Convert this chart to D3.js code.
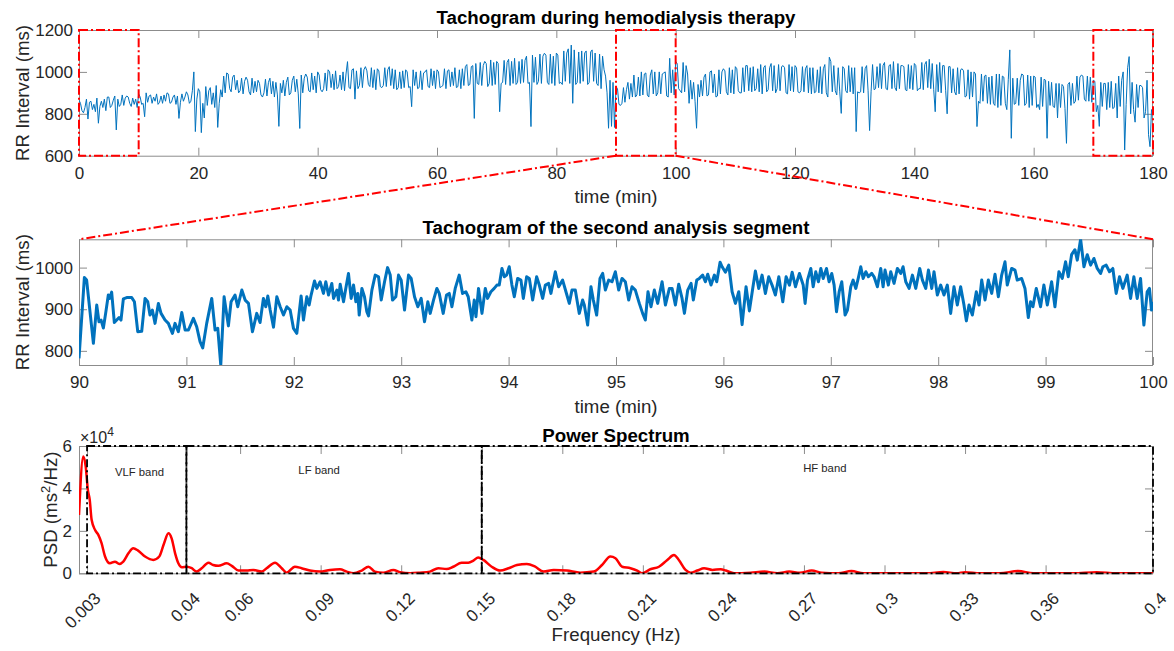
<!DOCTYPE html>
<html><head><meta charset="utf-8">
<script src="https://cdn.jsdelivr.net/npm/d3@7"></script>
<style>
body{margin:0;background:#fff;}
svg{display:block;font-family:"Liberation Sans",Arial,Helvetica,sans-serif;}
</style></head><body>
<svg id="chart" width="1174" height="651"></svg>
<script>
// ---------------- DATA ----------------
// Full tachogram, RR interval (ms) sampled every 0.25 min from 0 to 180 min
const fullStep = 0.25;
const fullRR = [
865,850,815,805, 830,870,775,855, 860,820,845,810, 875,755,835,860, 830,870,815,880,
880,830,840,865, 885,723,870,835, 845,890,840,875, 885,880,850,835, 875,845,870,830,
895,880,845,850, 786,900,855,885, 890,850,880,860, 895,845,855,885, 850,890,860,900,
895,850,855,880, 890,845,885,778, 855,895,860,880, 905,890,850,860, 910,1000,715,870,
920,905,710,850, 780,930,840,910, 925,845,900,830, 935,735,850,915, 880,980,900,995,
990,920,905,975, 985,915,960,900, 910,970,895,955, 975,960,905,890, 970,900,955,905,
960,945,890,880, 900,965,885,950, 970,895,955,880, 950,890,740,945, 900,960,885,950,
975,890,900,960, 980,905,965,895, 730,985,900,970, 990,975,910,905, 995,915,980,900,
1000,985,915,905, 920,995,910,1010, 1000,925,990,915, 1005,920,930,985, 915,1000,910,990,
1049,925,920,1010, 1015,870,1005,920, 935,1020,925,1010, 1025,1005,940,930, 1020,925,1010,915,
1015,1005,930,925, 935,1020,930,1010, 1025,935,1015,920, 1010,915,925,1000, 920,1005,925,1010,
1000,925,930,834, 1010,935,1000,920, 925,1005,915,995, 1000,1010,930,925, 1015,935,1005,920,
1010,1000,925,930, 935,1015,920,1005, 1010,930,1000,935, 1020,925,930,1010, 920,1015,935,1025,
1035,935,940,1025, 1030,778,1040,945, 940,1045,935,1030, 1050,1040,930,945, 1057,935,1045,940,
1050,1040,810,945, 950,1055,940,1045, 1060,935,1050,945, 1065,940,950,1050, 945,1060,950,1055,
1075,945,950,739, 1080,950,1070,940, 955,1085,945,1075, 1089,1080,950,940, 1085,945,1075,935,
1090,1080,945,950, 940,1100,955,1090, 1110,945,1128,850, 1105,940,950,1095, 945,1100,955,1090,
1100,940,950,1095, 1105,955,1090,945, 935,1085,920,1075, 1010,980,900,731, 960,740,950,735,
930,920,845,840, 850,925,855,915, 950,870,945,880, 985,880,890,975, 885,1000,890,990,
995,890,880,985, 1010,895,1000,885, 900,1000,895,990, 995,1000,885,880, 1065,900,1010,890,
1050,1040,920,910, 900,1045,905,1030, 990,850,960,870, 950,860,731,940, 880,960,885,975,
990,885,890,1000, 1005,900,990,880, 885,1010,895,1000, 1015,1005,905,890, 1020,900,1010,895,
1025,1015,910,900, 900,1020,905,1030, 1030,910,1020,905, 1025,910,920,1015, 905,1035,895,1020,
1030,905,915,1020, 1040,910,1030,900, 920,1035,910,1025, 1030,1020,900,895, 1035,910,1025,905,
1030,1020,905,900, 910,1025,905,1015, 1030,900,1020,895, 1020,900,905,1010, 900,1025,895,1015,
1035,900,880,1070, 1050,905,1030,910, 890,1020,905,802, 1025,1015,910,900, 1030,905,1020,895,
1020,715,905,900, 905,1025,900,1015, 1030,910,720,905, 1035,915,920,1025, 925,1040,920,1030,
1045,920,915,1030, 1035,920,1049,925, 910,1040,920,1030, 1030,1025,915,910, 1035,920,1030,915,
1040,1030,910,920, 920,1045,915,1035, 1050,925,1060,920, 1040,915,810,1035, 905,1045,900,1030,
1030,910,800,1025, 1025,900,1015,905, 890,1020,895,1010, 1015,1005,880,885, 1010,870,1000,880,
1000,990,739,860, 850,990,860,980, 985,850,975,845, 980,850,840,990, 830,990,840,980,
975,850,820,965, 1105,683,970,845, 850,970,840,960, 990,985,840,850, 985,830,980,840,
980,975,830,845, 820,975,835,965, 960,683,955,840, 950,835,830,945, 780,945,830,940,
930,825,659,940, 950,840,945,850, 860,980,865,975, 985,980,870,860, 980,860,975,855,
960,955,810,840, 740,950,835,945, 945,820,950,830, 955,825,830,945, 780,980,835,960,
1000,627,845,1020, 1073,800,950,820, 760,940,830,935, 935,925,780,810, 960,700,643,820,
820];

// Second analysis segment: [time (min), RR (ms)]
const segment = [
[90.000,782],[90.050,976],[90.071,970],[90.134,818],[90.165,910],[90.186,870],[90.205,874],[90.227,855],[90.248,890],[90.273,934],
[90.286,926],[90.304,941],[90.329,868],[90.351,874],[90.373,880],[90.391,874],[90.413,925],[90.444,928],[90.491,928],[90.516,918],
[90.547,846],[90.584,847],[90.615,926],[90.640,918],[90.661,886],[90.683,898],[90.708,866],[90.739,914],[90.764,890],[90.801,874],
[90.832,866],[90.870,842],[90.894,866],[90.925,846],[90.957,892],[90.988,850],[91.019,850],[91.065,878],[91.096,858],[91.127,822],
[91.152,807],[91.189,866],[91.236,926],[91.267,850],[91.292,854],[91.320,766],[91.351,930],[91.391,860],[91.416,918],[91.453,934],
[91.478,906],[91.516,946],[91.547,922],[91.578,914],[91.615,846],[91.655,890],[91.686,868],[91.717,926],[91.739,906],[91.758,932],
[91.780,898],[91.811,857],[91.842,930],[91.873,906],[91.904,886],[91.935,906],[91.966,898],[91.997,854],[92.028,842],[92.068,932],
[92.090,874],[92.121,930],[92.143,910],[92.161,934],[92.193,968],[92.214,950],[92.245,966],[92.276,938],[92.298,966],[92.323,934],
[92.354,962],[92.370,926],[92.401,946],[92.416,922],[92.432,960],[92.463,918],[92.484,950],[92.509,986],[92.534,926],[92.556,958],
[92.578,918],[92.596,938],[92.609,886],[92.634,950],[92.658,930],[92.680,894],[92.696,884],[92.727,946],[92.758,982],[92.789,978],
[92.814,922],[92.845,966],[92.873,1000],[92.898,982],[92.919,922],[92.950,930],[92.975,982],[93.000,970],[93.031,898],[93.068,982],
[93.093,974],[93.124,930],[93.155,906],[93.186,926],[93.217,870],[93.248,918],[93.270,890],[93.301,922],[93.332,950],[93.354,938],
[93.391,890],[93.422,934],[93.447,938],[93.472,906],[93.503,950],[93.540,982],[93.571,938],[93.602,942],[93.624,930],[93.658,874],
[93.680,922],[93.696,882],[93.720,950],[93.752,890],[93.783,950],[93.804,926],[93.835,942],[93.866,950],[93.891,958],[93.913,958],
[93.938,998],[93.960,978],[93.981,982],[94.006,1002],[94.031,958],[94.053,930],[94.084,974],[94.115,970],[94.137,926],[94.168,978],
[94.193,974],[94.224,922],[94.261,978],[94.286,958],[94.317,926],[94.342,958],[94.373,962],[94.394,938],[94.435,990],[94.466,954],
[94.503,970],[94.534,942],[94.565,914],[94.590,946],[94.621,946],[94.658,890],[94.689,922],[94.705,910],[94.736,862],[94.767,954],
[94.789,922],[94.820,886],[94.851,974],[94.876,986],[94.901,946],[94.932,970],[94.963,966],[94.994,990],[95.025,946],[95.056,974],
[95.087,966],[95.118,922],[95.149,954],[95.180,946],[95.217,914],[95.248,890],[95.273,874],[95.298,942],[95.326,906],[95.357,946],
[95.388,914],[95.429,966],[95.460,910],[95.497,950],[95.522,950],[95.553,910],[95.584,960],[95.615,926],[95.637,890],[95.668,946],
[95.699,962],[95.720,922],[95.752,970],[95.776,974],[95.807,982],[95.832,966],[95.854,984],[95.885,958],[95.916,982],[95.938,966],
[95.969,1013],[95.988,1002],[96.019,989],[96.050,1006],[96.081,942],[96.112,914],[96.143,942],[96.174,863],[96.211,954],[96.242,896],
[96.273,950],[96.298,992],[96.329,950],[96.360,982],[96.391,938],[96.422,978],[96.453,958],[96.484,934],[96.516,978],[96.553,918],
[96.584,978],[96.615,958],[96.640,989],[96.671,954],[96.708,986],[96.743,958],[96.761,914],[96.783,970],[96.814,998],[96.836,954],
[96.860,990],[96.885,966],[96.907,998],[96.929,974],[96.960,998],[96.984,966],[97.009,986],[97.031,958],[97.053,894],[97.078,942],
[97.102,966],[97.133,886],[97.155,898],[97.186,954],[97.208,970],[97.233,950],[97.257,976],[97.279,1002],[97.301,974],[97.326,990],
[97.350,978],[97.381,986],[97.403,978],[97.434,954],[97.465,998],[97.487,954],[97.505,994],[97.536,958],[97.558,990],[97.589,962],
[97.620,998],[97.651,986],[97.673,1002],[97.698,966],[97.729,950],[97.760,982],[97.791,950],[97.828,998],[97.853,970],[97.884,950],
[97.909,994],[97.940,950],[97.961,990],[97.992,934],[98.023,958],[98.054,934],[98.085,958],[98.116,890],[98.147,954],[98.178,910],
[98.209,954],[98.240,910],[98.262,872],[98.287,910],[98.318,886],[98.355,942],[98.380,910],[98.405,970],[98.436,922],[98.467,970],
[98.498,938],[98.529,984],[98.560,930],[98.591,982],[98.622,1014],[98.643,958],[98.684,998],[98.715,994],[98.736,970],[98.777,974],
[98.808,950],[98.839,880],[98.860,918],[98.882,906],[98.913,950],[98.953,906],[98.984,958],[99.016,910],[99.056,966],[99.087,906],
[99.124,990],[99.155,974],[99.186,1014],[99.211,978],[99.242,1031],[99.273,1043],[99.295,1018],[99.326,1068],[99.357,1002],[99.388,1031],
[99.419,1006],[99.450,1022],[99.481,998],[99.512,986],[99.533,1002],[99.564,1006],[99.595,990],[99.626,998],[99.657,938],[99.688,978],
[99.719,950],[99.760,982],[99.791,926],[99.822,978],[99.853,926],[99.884,974],[99.915,862],[99.946,942],[99.967,950],[99.986,898],
[99.998,918]];

// Power spectrum: [frequency (Hz), PSD (ms^2/Hz)]
const spectrum = [
[0,27500],[0.0016,55000],[0.0025,50300],[0.0033,39300],[0.004,34600],[0.0047,25200],[0.006,20400],[0.0072,18100],[0.0084,14200],[0.0097,7900],
[0.0115,4700],[0.0134,5500],[0.015,4400],[0.0165,5500],[0.0184,9400],[0.0202,11800],[0.022,10700],[0.0246,7900],[0.0277,6300],[0.0299,7900],
[0.0317,14200],[0.0333,18900],[0.0345,16500],[0.0358,9400],[0.037,4700],[0.0383,2800],[0.0401,3100],[0.042,2400],[0.0438,800],[0.0457,2400],
[0.0482,5000],[0.05,3900],[0.0519,3500],[0.055,4700],[0.0569,3500],[0.0594,1300],[0.0624,1300],[0.0649,1600],[0.068,800],[0.0699,2400],
[0.073,5000],[0.0755,2400],[0.0773,300],[0.0804,3100],[0.0829,2400],[0.086,1300],[0.0897,800],[0.0935,1600],[0.0972,1900],[0.0997,800],
[0.1022,0],[0.1053,1300],[0.1078,3100],[0.1102,800],[0.1133,300],[0.1171,1600],[0.1196,500],[0.1233,0],[0.127,300],[0.1307,800],
[0.1338,2400],[0.1369,2000],[0.1394,3100],[0.1425,5000],[0.145,5000],[0.1469,6000],[0.1487,7500],[0.1506,6300],[0.1537,3100],[0.1568,1300],
[0.16,2400],[0.1631,3900],[0.1668,4400],[0.1699,3100],[0.173,800],[0.1768,1600],[0.1817,1300],[0.1867,300],[0.1917,800],[0.1948,3900],
[0.1979,7900],[0.1998,7100],[0.2023,3100],[0.2054,2400],[0.2079,1300],[0.2097,0],[0.2128,1900],[0.216,3100],[0.2191,6300],[0.2216,8600],
[0.2234,6300],[0.2259,1600],[0.2278,300],[0.2303,1300],[0.2328,2400],[0.2359,1600],[0.239,1900],[0.2409,1300],[0.244,0],[0.2502,300],
[0.2552,800],[0.2601,0],[0.2645,800],[0.2685,300],[0.2729,1300],[0.2766,300],[0.2828,0],[0.2877,1100],[0.2921,0],[0.2983,0],
[0.3083,0],[0.3157,0],[0.3219,600],[0.3269,0],[0.33,500],[0.3356,0],[0.343,0],[0.3498,1100],[0.3554,0],[0.3641,0],
[0.3703,0],[0.379,500],[0.3864,0],[0.3926,0],[0.4,0]];

// Ticks / labels
const topXTicks = [0,20,40,60,80,100,120,140,160,180];
const topYTicks = [600,800,1000,1200];
const midXTicks = [90,91,92,93,94,95,96,97,98,99,100];
const midYTicks = [800,900,1000];
const specXTicks = [0.003,0.04,0.06,0.09,0.12,0.15,0.18,0.21,0.24,0.27,0.3,0.33,0.36,0.4];
const specXLabels = ["0.003","0.04","0.06","0.09","0.12","0.15","0.18","0.21","0.24","0.27","0.3","0.33","0.36","0.4"];
const specYTicks = [0,20000,40000,60000];

// Analysis windows (min) and frequency bands (Hz)
const windows = [[0,10],[90,100],[170,180]];
const zoomedWindow = [90,100];
const bandNames = ["VLF band","LF band","HF band"];
const bandEdges = [[0.003,0.04],[0.04,0.15],[0.15,0.4]];
const bandLabelAnchor = [[0.0134,47900],[0.0817,48800],[0.2697,49700]];

const titles = ["Tachogram during hemodialysis therapy","Tachogram of the second analysis segment","Power Spectrum"];

// ---------------- DRAWING ----------------
const svg = d3.select("#chart");
const AX = "#8c8c8c", TXT = "#262626", BLUE = "#0072BD", RED = "#FF0000";
const L = 79, R = 1153;

const xTop = d3.scaleLinear().domain([0,180]).range([L,R]);
const yTop = d3.scaleLinear().domain([600,1200]).range([155.7,30]);
const xMid = d3.scaleLinear().domain(zoomedWindow).range([L,R]);
const yMid = d3.scaleLinear().domain(d3.extent(segment, d=>d[1])).range([365,239.3]);
const xBot = d3.scaleLinear().domain([0,0.4]).range([L,R]);
const yBot = d3.scaleLinear().domain([0,60000]).range([573.3,446]);

function frame(x, y, xt, yt, o) {
  const g = svg.append("g");
  const [x0,x1] = x.range(), [y1,y0] = y.range();
  const b = g.append("g").attr("transform",`translate(0,${y1})`)
    .call(d3.axisBottom(x).tickValues(xt).tickSizeInner(-8).tickSizeOuter(0).tickPadding(o.xPad).tickFormat(o.xFmt));
  g.append("g").attr("transform",`translate(0,${y0})`)
    .call(d3.axisTop(x).tickValues(xt).tickSizeInner(-8).tickSizeOuter(0).tickFormat(""));
  g.append("g").attr("transform",`translate(${x0},0)`)
    .call(d3.axisLeft(y).tickValues(yt).tickSizeInner(-8).tickSizeOuter(0).tickPadding(o.yPad).tickFormat(o.yFmt));
  g.append("g").attr("transform",`translate(${x1},0)`)
    .call(d3.axisRight(y).tickValues(yt).tickSizeInner(-8).tickSizeOuter(0).tickFormat(""));
  g.selectAll(".domain").remove();
  g.selectAll(".tick line").attr("stroke",AX);
  g.selectAll(".tick text").attr("fill",TXT).attr("font-size",17).attr("font-family",null);
  g.append("rect").attr("x",x0+0.5).attr("y",y0+0.5).attr("width",x1-x0-1).attr("height",y1-y0)
    .attr("fill","none").attr("stroke",AX).attr("stroke-width",1);
  return {g, b};
}
function clip(id, x, y) {
  svg.append("clipPath").attr("id",id).append("rect")
    .attr("x",x.range()[0]).attr("y",y.range()[1]).attr("width",x.range()[1]-x.range()[0]).attr("height",y.range()[0]-y.range()[1]);
}
function title(t, yb) {
  svg.append("text").attr("x",(L+R)/2).attr("y",yb).attr("text-anchor","middle")
    .attr("font-weight","bold").attr("font-size",18.7).attr("fill","#000").text(t);
}
function xlabel(t, yb) {
  svg.append("text").attr("x",(L+R)/2).attr("y",yb).attr("text-anchor","middle")
    .attr("font-size",18.7).attr("fill",TXT).text(t);
}
function ylabel(xb, yc) {
  return svg.append("text").attr("transform",`translate(${xb},${yc}) rotate(-90)`).attr("text-anchor","middle")
    .attr("font-size",18.7).attr("fill",TXT);
}

// ---- Top panel
frame(xTop, yTop, topXTicks, topYTicks, {xPad:11, yPad:6, xFmt:d3.format("d"), yFmt:d3.format("d")});
clip("cTop", xTop, yTop);
svg.append("path").attr("clip-path","url(#cTop)")
  .datum(fullRR)
  .attr("d", d3.line().x((d,i)=>xTop(i*fullStep)).y(d=>yTop(d)))
  .attr("fill","none").attr("stroke",BLUE).attr("stroke-width",1);
title(titles[0], 23.5);
xlabel("time (min)", 203);
ylabel(28.5, 93).text("RR Interval (ms)");

// red analysis windows
svg.selectAll("rect.win").data(windows).enter().append("rect").attr("class","win")
  .attr("x",d=>xTop(d[0])).attr("y",yTop(1200)).attr("width",d=>xTop(d[1])-xTop(d[0])).attr("height",yTop(600)-yTop(1200))
  .attr("fill","none").attr("stroke",RED).attr("stroke-width",2).attr("stroke-dasharray","9,3,2,3");

// ---- Middle panel
frame(xMid, yMid, midXTicks, midYTicks, {xPad:11, yPad:6, xFmt:d3.format("d"), yFmt:d3.format("d")});
clip("cMid", xMid, yMid);
svg.append("path").attr("clip-path","url(#cMid)")
  .datum(segment)
  .attr("d", d3.line().x(d=>xMid(d[0])).y(d=>yMid(d[1])))
  .attr("fill","none").attr("stroke",BLUE).attr("stroke-width",3).attr("stroke-linejoin","round");
title(titles[1], 233.5);
xlabel("time (min)", 413);
ylabel(28.5, (239.3+365)/2).text("RR Interval (ms)");

// connector lines
svg.append("line").attr("x1",xTop(zoomedWindow[0])).attr("y1",yTop(600)).attr("x2",xMid(zoomedWindow[0])).attr("y2",yMid.range()[1])
  .attr("stroke",RED).attr("stroke-width",2).attr("stroke-dasharray","9,3,2,3");
svg.append("line").attr("x1",xTop(zoomedWindow[1])).attr("y1",yTop(600)).attr("x2",xMid(zoomedWindow[1])).attr("y2",yMid.range()[1])
  .attr("stroke",RED).attr("stroke-width",2).attr("stroke-dasharray","9,3,2,3");

// ---- Bottom panel
const fb = frame(xBot, yBot, specXTicks, specYTicks, {xPad:0, yPad:7, xFmt:(d,i)=>specXLabels[i], yFmt:d=>d/1e4});
fb.b.selectAll(".tick text").attr("y",0).attr("dy","0.35em").attr("text-anchor","end")
  .attr("transform","translate(10,22) rotate(-45)");
clip("cBot", xBot, yBot);
svg.append("path").attr("clip-path","url(#cBot)")
  .datum(spectrum)
  .attr("d", d3.line().x(d=>xBot(d[0])).y(d=>yBot(d[1])).curve(d3.curveMonotoneX))
  .attr("fill","none").attr("stroke",RED).attr("stroke-width",2.5).attr("stroke-linejoin","round");
// band boxes
svg.selectAll("rect.band").data(bandEdges).enter().append("rect").attr("class","band")
  .attr("x",d=>xBot(d[0])).attr("y",yBot(60000)).attr("width",d=>xBot(d[1])-xBot(d[0])).attr("height",yBot(0)-yBot(60000))
  .attr("fill","none").attr("stroke","#000").attr("stroke-width",1.8).attr("stroke-dasharray","8,3,2,3");
svg.selectAll("text.band").data(bandNames).enter().append("text").attr("class","band")
  .attr("x",(d,i)=>xBot(bandLabelAnchor[i][0])).attr("y",(d,i)=>yBot(bandLabelAnchor[i][1])+4)
  .attr("font-size",11.3).attr("fill",TXT).text(d=>d);
title(titles[2], 441.5);
xlabel("Frequency (Hz)", 641);
const yl = ylabel(57, (446+573.3)/2);
yl.append("tspan").text("PSD (ms");
yl.append("tspan").attr("dy",-7).attr("font-size",13).text("2");
yl.append("tspan").attr("dy",7).text("/Hz)");
const ex = svg.append("text").attr("x",80).attr("y",443).attr("font-size",16).attr("fill",TXT);
ex.append("tspan").text("\u00d710");
ex.append("tspan").attr("dy",-7).attr("font-size",12).text("4");
</script>
</body></html>
